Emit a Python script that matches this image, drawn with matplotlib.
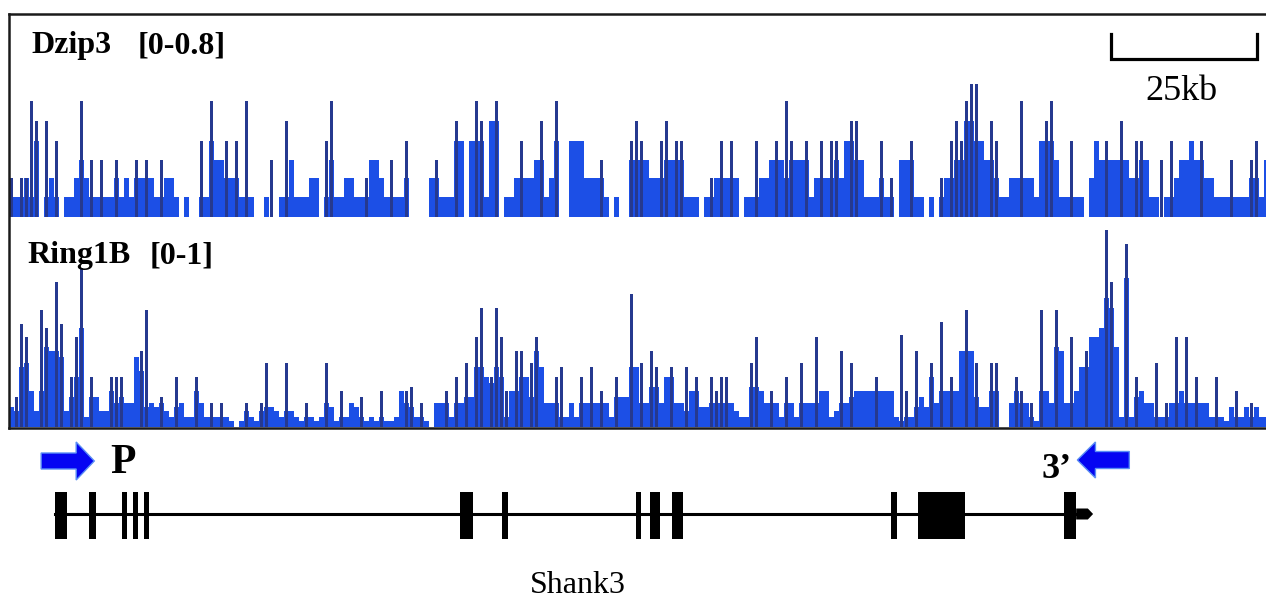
import numpy as np
import matplotlib.pyplot as plt
from matplotlib.patches import FancyArrow, Rectangle

plt.rcParams['font.family'] = ['Liberation Serif', 'DejaVu Serif']

# ---------------- data ----------------
BIN_KB = 0.856      # width of one coverage bin (kb)
VIEW_KB = 215.2     # width of the browser window (kb)

# signal in hundredths, block level and thin spike level per bin
dzip3_base = [8, 8, 8, 16, 8, 31, 0, 8, 16, 8,
              0, 8, 8, 16, 23, 16, 8, 8, 8, 8,
              8, 16, 8, 16, 8, 16, 16, 16, 16, 8,
              8, 16, 16, 8, 0, 8, 0, 0, 8, 8,
              31, 23, 23, 16, 16, 16, 8, 8, 8, 0,
              0, 8, 0, 0, 8, 8, 23, 8, 8, 8,
              16, 16, 0, 8, 23, 8, 8, 16, 16, 8,
              8, 8, 23, 23, 16, 8, 8, 8, 8, 16,
              0, 0, 0, 0, 16, 16, 8, 8, 8, 31,
              31, 0, 31, 31, 31, 8, 39, 39, 0, 8,
              8, 16, 16, 16, 16, 23, 23, 8, 16, 31,
              0, 0, 31, 31, 31, 16, 16, 16, 16, 8,
              0, 8, 0, 0, 23, 23, 23, 23, 16, 16,
              16, 23, 23, 23, 23, 8, 8, 8, 0, 8,
              8, 16, 16, 16, 16, 16, 0, 8, 8, 8,
              16, 16, 23, 23, 23, 16, 23, 23, 23, 23,
              8, 16, 16, 16, 16, 23, 16, 31, 31, 23,
              23, 8, 8, 8, 16, 8, 8, 0, 23, 23,
              23, 8, 8, 0, 8, 0, 8, 16, 16, 23,
              23, 39, 39, 31, 31, 23, 23, 16, 8, 8,
              16, 16, 16, 16, 16, 8, 31, 31, 31, 23,
              8, 8, 8, 8, 8, 0, 16, 31, 23, 23,
              23, 23, 23, 23, 16, 16, 23, 23, 8, 8,
              0, 8, 8, 16, 23, 23, 31, 23, 23, 16,
              16, 8, 8, 8, 8, 8, 8, 8, 16, 16,
              8, 23]
dzip3_peak = [16, 0, 16, 16, 47, 39, 0, 39, 0, 31,
              0, 0, 0, 0, 47, 0, 23, 0, 23, 0,
              0, 23, 0, 0, 0, 23, 0, 23, 0, 0,
              23, 0, 0, 0, 0, 0, 0, 0, 31, 0,
              47, 0, 0, 31, 0, 31, 0, 47, 0, 0,
              0, 0, 23, 0, 0, 39, 0, 0, 0, 0,
              0, 0, 0, 31, 47, 0, 0, 0, 0, 0,
              0, 16, 0, 0, 0, 0, 23, 0, 0, 31,
              0, 0, 0, 0, 0, 23, 0, 0, 0, 39,
              0, 0, 0, 47, 39, 0, 0, 47, 0, 0,
              0, 0, 31, 0, 0, 0, 39, 0, 0, 47,
              0, 0, 0, 0, 0, 0, 0, 0, 23, 0,
              0, 0, 0, 0, 31, 39, 31, 0, 0, 0,
              31, 39, 0, 31, 31, 0, 0, 0, 0, 0,
              16, 0, 31, 0, 31, 0, 0, 0, 0, 31,
              0, 0, 0, 31, 0, 47, 31, 0, 0, 31,
              0, 0, 31, 0, 31, 31, 0, 0, 39, 39,
              0, 0, 0, 0, 31, 0, 16, 0, 0, 0,
              31, 0, 0, 0, 0, 0, 16, 0, 31, 39,
              31, 47, 54, 54, 0, 0, 39, 31, 0, 0,
              0, 0, 47, 0, 0, 0, 0, 39, 47, 0,
              0, 0, 31, 0, 0, 0, 0, 0, 0, 31,
              0, 0, 39, 0, 0, 31, 31, 0, 0, 0,
              23, 0, 31, 0, 0, 0, 0, 0, 31, 0,
              0, 0, 0, 0, 23, 0, 0, 0, 23, 31,
              0, 0]

ring1b_base = [10, 8, 30, 32, 18, 8, 18, 40, 38, 38,
               35, 8, 15, 25, 50, 5, 15, 15, 8, 8,
               18, 12, 15, 12, 12, 35, 28, 10, 12, 10,
               12, 8, 5, 10, 12, 5, 5, 18, 12, 5,
               5, 5, 5, 5, 3, 0, 3, 8, 5, 3,
               8, 10, 10, 8, 5, 8, 8, 5, 3, 5,
               5, 3, 5, 12, 10, 3, 5, 5, 12, 10,
               5, 3, 5, 3, 5, 3, 3, 5, 18, 12,
               10, 5, 5, 3, 0, 12, 12, 12, 5, 12,
               12, 15, 15, 30, 30, 25, 22, 30, 25, 5,
               18, 18, 25, 25, 15, 38, 30, 12, 12, 12,
               5, 5, 12, 5, 12, 12, 12, 12, 12, 12,
               5, 15, 15, 15, 30, 30, 12, 12, 20, 20,
               12, 25, 25, 12, 12, 8, 18, 18, 10, 10,
               12, 12, 12, 12, 12, 8, 5, 5, 20, 20,
               18, 12, 12, 12, 5, 12, 12, 5, 12, 12,
               12, 12, 18, 18, 5, 8, 12, 12, 15, 18,
               18, 18, 18, 18, 18, 18, 18, 5, 3, 5,
               5, 10, 15, 10, 25, 12, 18, 18, 18, 18,
               38, 38, 38, 15, 10, 10, 18, 18, 0, 0,
               12, 18, 12, 12, 5, 3, 18, 18, 12, 40,
               38, 12, 12, 18, 30, 30, 45, 45, 50, 65,
               60, 40, 5, 75, 5, 15, 18, 12, 12, 5,
               5, 5, 12, 12, 18, 12, 12, 12, 12, 12,
               5, 5, 5, 3, 10, 5, 5, 10, 5, 10,
               5, 5]
ring1b_peak = [0, 15, 52, 45, 0, 0, 59, 50, 0, 73,
               52, 0, 25, 45, 80, 0, 25, 0, 0, 0,
               25, 25, 25, 0, 0, 0, 38, 59, 0, 0,
               15, 0, 0, 25, 0, 0, 0, 25, 0, 0,
               12, 0, 12, 0, 0, 0, 0, 12, 0, 0,
               12, 32, 0, 0, 0, 32, 0, 0, 0, 12,
               0, 0, 0, 32, 0, 0, 18, 0, 0, 0,
               15, 0, 0, 0, 18, 0, 0, 0, 0, 18,
               20, 0, 12, 0, 0, 0, 0, 18, 0, 25,
               0, 32, 0, 45, 60, 0, 25, 60, 45, 18,
               0, 38, 38, 0, 32, 45, 0, 0, 0, 25,
               30, 0, 0, 0, 25, 0, 30, 0, 18, 0,
               0, 25, 0, 0, 67, 0, 32, 0, 38, 30,
               0, 0, 30, 0, 0, 30, 0, 25, 0, 0,
               25, 18, 25, 25, 0, 0, 0, 0, 32, 45,
               0, 0, 18, 0, 0, 25, 0, 0, 32, 0,
               0, 45, 0, 0, 0, 0, 38, 0, 32, 0,
               0, 0, 0, 25, 0, 0, 0, 0, 46, 18,
               0, 38, 0, 0, 32, 0, 53, 0, 25, 0,
               0, 59, 0, 32, 0, 0, 32, 32, 0, 0,
               0, 25, 18, 0, 12, 0, 59, 0, 0, 59,
               0, 0, 45, 0, 0, 38, 0, 0, 0, 99,
               73, 0, 0, 92, 0, 25, 0, 0, 0, 32,
               0, 12, 0, 45, 0, 45, 0, 25, 0, 0,
               0, 25, 0, 0, 0, 18, 0, 0, 12, 0,
               0, 0]

# Shank3 gene model (kb)
exon_start = [7.9, 13.7, 19.3, 21.2, 23.1, 77.2, 84.4, 107.4, 109.8, 113.5, 151.0, 155.6, 180.6]
exon_end = [9.9, 14.9, 20.2, 22.1, 24.0, 79.4, 85.4, 108.2, 111.5, 115.4, 152.1, 163.7, 182.7]
gene_end = 185.6
scale_start, scale_len = 188.7, 25
primer_fwd = (5.5, 14.6)
primer_rev = (191.8, 182.9)

# ---------------- layout (pixels) ----------------
W, H = 1266, 600
X0 = 9
KB_PER_PX = VIEW_KB / (W - X0)
FILL = '#1c4fe6'
SPIKE = '#26398f'
ARROW = '#0505f2'

fig = plt.figure(figsize=(W / 100, H / 100), dpi=100)


def px_axes(x0, y0, x1, y1):
    return fig.add_axes([x0 / W, 1 - y1 / H, (x1 - x0) / W, (y1 - y0) / H])


def draw_track(ax, base, peak, top):
    base = np.array(base) / 100
    peak = np.array(peak) / 100
    x = np.arange(len(base)) * BIN_KB
    ax.bar(x, base, width=BIN_KB, align='edge', color=FILL, linewidth=0)
    m = peak > 0
    ax.bar(x[m] + BIN_KB * 0.5, peak[m], width=BIN_KB * 0.42, color=SPIKE, linewidth=0)
    ax.set_xlim(0, VIEW_KB)
    ax.set_ylim(0, top)
    ax.axis('off')


ax1 = px_axes(X0, 20, W, 217)
draw_track(ax1, dzip3_base, dzip3_peak, 0.8)
ax2 = px_axes(X0, 228, W, 427)
draw_track(ax2, ring1b_base, ring1b_peak, 1.0)

# overlay: x in kb, y in pixels
ov = fig.add_axes([0, 0, 1, 1])
ov.set_xlim(-X0 * KB_PER_PX, VIEW_KB)
ov.set_ylim(H, 0)
ov.axis('off')

# panel frame
ov.plot([0, VIEW_KB], [14, 14], color='#1a1a1a', lw=1.8)
ov.plot([0, 0], [14, 428], color='#1a1a1a', lw=1.8)
ov.plot([0, VIEW_KB], [428, 428], color='#1a1a1a', lw=1.8)

# track labels
ov.text(3.9, 53, 'Dzip3', fontsize=23, fontweight='bold', va='baseline')
ov.text(22.1, 53, '[0-0.8]', fontsize=23, fontweight='bold', va='baseline')
ov.text(3.2, 263, 'Ring1B', fontsize=23, fontweight='bold', va='baseline')
ov.text(24.1, 263, '[0-1]', fontsize=23, fontweight='bold', va='baseline')

# scale bar
ov.plot([scale_start, scale_start, scale_start + scale_len, scale_start + scale_len],
        [34, 59, 59, 34], color='k', lw=2.3, solid_joinstyle='miter')
ov.text(scale_start + scale_len / 2 - 0.4, 100, '25kb', fontsize=26, ha='center', va='baseline')

# gene model
ov.plot([exon_start[0], exon_end[-1]], [514, 514], color='k', lw=2.2)
for s, e in zip(exon_start, exon_end):
    ov.add_patch(Rectangle((s, 492), e - s, 47, color='k', lw=0))
ov.add_patch(FancyArrow(exon_end[-1], 514, gene_end - exon_end[-1], 0, width=11,
                        head_width=11, head_length=0.9, length_includes_head=True,
                        color='k', lw=0))
ov.text(97.4, 593, 'Shank3', fontsize=23, ha='center', va='baseline')

# primers
ov.add_patch(FancyArrow(primer_fwd[0], 461, primer_fwd[1] - primer_fwd[0], 0, width=16,
                        head_width=38, head_length=3.1, length_includes_head=True,
                        fc=ARROW, ec='#5b8ff5', lw=1))
ov.add_patch(FancyArrow(primer_rev[0], 460, primer_rev[1] - primer_rev[0], 0, width=17,
                        head_width=36, head_length=3.1, length_includes_head=True,
                        fc=ARROW, ec='#5b8ff5', lw=1))
ov.text(17.3, 473, 'P', fontsize=30, fontweight='bold', va='baseline')
ov.text(176.7, 478, '3\u2019', fontsize=26, fontweight='bold', va='baseline')

fig.savefig('out.png', dpi=100)
